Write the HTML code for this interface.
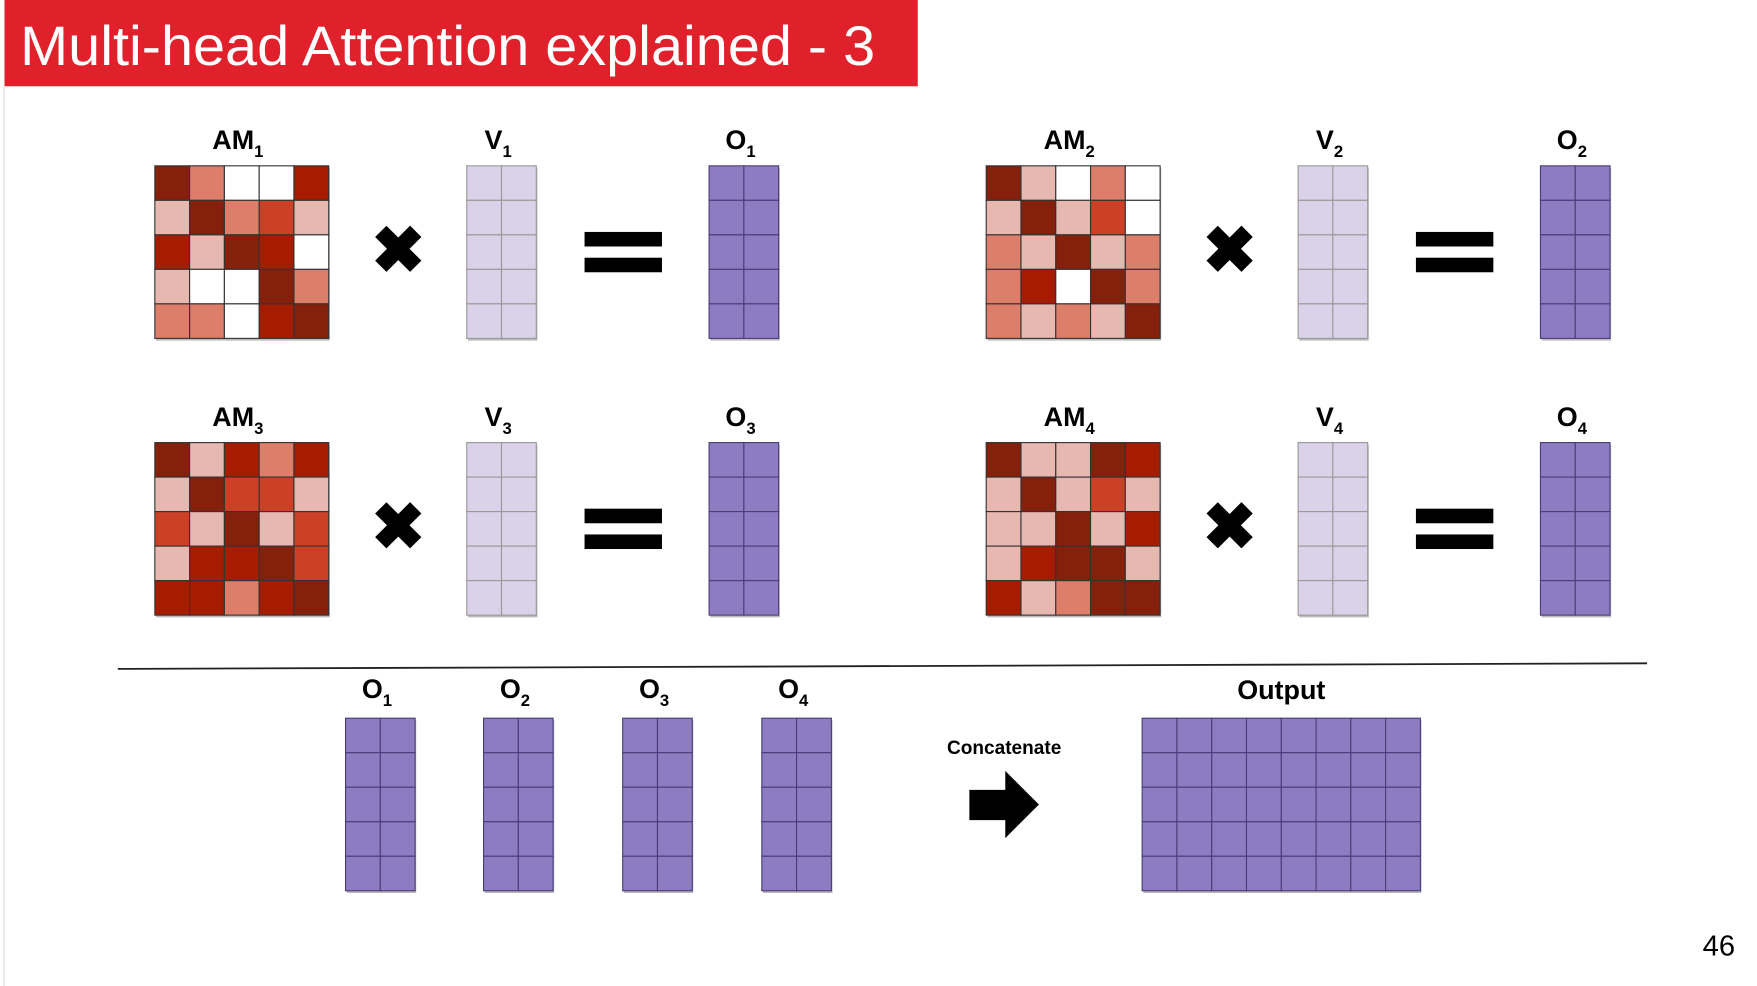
<!DOCTYPE html>
<html><head><meta charset="utf-8"><style>
html,body{margin:0;padding:0;background:#fff;}
svg{display:block;}
text{font-family:"Liberation Sans",sans-serif;}
</style></head><body>
<svg id="s" width="1757" height="986" viewBox="0 0 1566 880" preserveAspectRatio="none" xmlns="http://www.w3.org/2000/svg">
<line x1="3.5" y1="77" x2="3.5" y2="880" stroke="#ddd" stroke-width="1"/>
<rect x="4" y="0" width="814" height="77" fill="#e0202a"/>
<text x="18" y="58" fill="#fff" font-size="50" textLength="762" lengthAdjust="spacingAndGlyphs">Multi-head Attention explained - 3</text>
<line x1="105" y1="597" x2="1468" y2="592" stroke="#222" stroke-width="1.6"/>
<text x="895" y="673" text-anchor="middle" font-size="17" font-weight="bold">Concatenate</text>
<polygon points="864,705 896,705 896,688 926,718 896,748 896,732 864,732" fill="#000"/>
<text x="1532" y="853" text-anchor="middle" font-size="26">46</text>
</svg>
<script>
const palette=["#ffffff","#e6b8af","#dd7e6b","#cc4125","#a61c00","#85200c"];
const am1=[[5,2,0,0,4],[1,5,2,3,1],[4,1,5,4,0],[1,0,0,5,2],[2,2,0,4,5]];
const am2=[[5,1,0,2,0],[1,5,1,3,0],[2,1,5,1,2],[2,4,0,5,2],[2,1,2,1,5]];
const am3=[[5,1,4,2,4],[1,5,3,3,1],[3,1,5,1,3],[1,4,4,5,3],[4,4,2,4,5]];
const am4=[[5,1,1,5,4],[1,5,1,3,1],[1,1,5,1,4],[1,4,5,5,1],[4,1,2,5,5]];
const NS="http://www.w3.org/2000/svg";
const svg=document.getElementById('s');
function mk(tag,attrs){const e=document.createElementNS(NS,tag);for(const k in attrs)e.setAttribute(k,attrs[k]);svg.appendChild(e);return e;}
function grid(name,x,y,cols,rows,cw,ch,colorFn,stroke){
  const g=mk('g',{});
  
  
  const sh=mk('rect',{x:x+1,y:y+2,width:cols*cw,height:rows*ch,fill:'#bbb'});
  
  
  for(let r=0;r<rows;r++)for(let c=0;c<cols;c++){
    const e=mk('rect',{x:x+c*cw,y:y+r*ch,width:cw,height:ch,fill:colorFn(r,c),stroke:stroke,'stroke-width':1});
    
    
  }
}
function label(name,x,y,main,sub,size){
  const t=mk('text',{x:x,y:y,'text-anchor':'middle','font-size':size,'font-weight':'bold'});
  
  
  t.textContent=main;
  const ts=document.createElementNS(NS,'tspan');
  ts.setAttribute('font-size',size*0.62);ts.setAttribute('dy',size*0.3);
  ts.textContent=sub;t.appendChild(ts);
}
const purple=()=>'#8e7cc3', lav=()=>'#d9d2e9';
const blocks=[[am1,'1',0,0],[am2,'2',741,0],[am3,'3',0,247],[am4,'4',741,247]];
blocks.forEach(([m,n,dx,dy])=>{
  grid('attention-matrix-'+n,138+dx,148+dy,5,5,31,30.8,(r,c)=>palette[m[r][c]],'#333');
  label('am'+n+'-label',212+dx,133+dy,'AM',n,24);
  grid('value-matrix-'+n,416+dx,148+dy,2,5,31,30.8,lav,'#999');
  label('v'+n+'-label',444+dx,133+dy,'V',n,24);
  grid('output-matrix-'+n,632+dx,148+dy,2,5,31,30.8,purple,'#4a3d78');
  label('o'+n+'-label',660+dx,133+dy,'O',n,24);
  const x=mk('text',{x:355+dx,y:243+dy,'text-anchor':'middle','font-size':58,'font-weight':'bold'});
  
  
  x.textContent='✖';
  const e1=mk('rect',{x:521+dx,y:207+dy,width:69,height:13,fill:'#000'});
  
  
  const e2=mk('rect',{x:521+dx,y:230+dy,width:69,height:13,fill:'#000'});
  
  
});
[308,431,555,679].forEach((x,i)=>{
  grid('concat-input-'+(i+1),x,641,2,5,31,30.8,purple,'#4a3d78');
  label('concat-o'+(i+1)+'-label',x+28,623,'O',String(i+1),24);
});
grid('output-concatenated',1018,641,8,5,31,30.8,purple,'#4a3d78');
const ol=mk('text',{x:1142,y:624,'text-anchor':'middle','font-size':24,'font-weight':'bold'});


ol.textContent='Output';
</script>
</body></html>
